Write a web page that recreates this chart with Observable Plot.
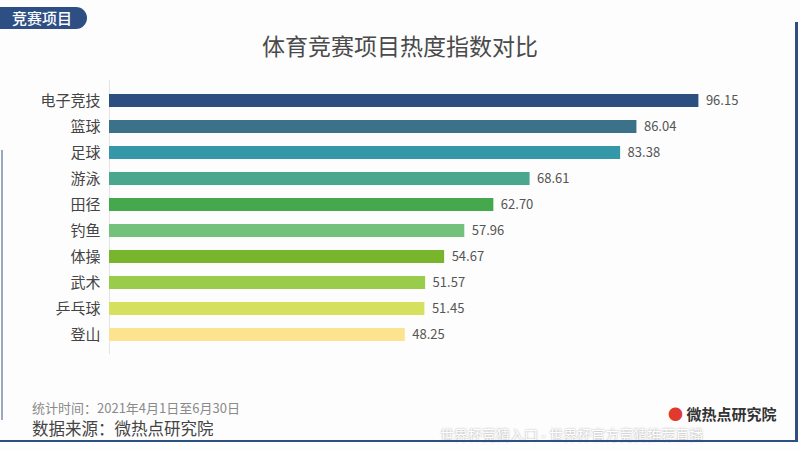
<!DOCTYPE html>
<html>
<head>
<meta charset="utf-8">
<script src="https://cdn.jsdelivr.net/npm/d3@7"></script>
<script src="https://cdn.jsdelivr.net/npm/@observablehq/plot@0.6"></script>
<style>
  html, body { margin: 0; padding: 0; background: #fff; }
  body { width: 800px; height: 451px; overflow: hidden; font-family: "Noto Sans CJK SC", "Noto Sans", sans-serif; }
  #wrap { position: relative; width: 800px; height: 451px; background: #fdfdfd; }
  #chart { position: absolute; left: 0; top: 0; }
  .abs { position: absolute; white-space: nowrap; }
  #badge { left: 0; top: 7px; width: 87px; height: 22px; background: #2d4f84; color: #fff; font-size: 15px; line-height: 22px; padding-left: 12px; box-sizing: border-box; border-radius: 0 11px 11px 0; font-weight: 500; }
  #title { left: 0; width: 800px; top: 28px; text-align: center; font-size: 23px; color: #4a4a4a; }
  #time { left: 32px; top: 398px; font-size: 13px; color: #8a8a8a; }
  #src { left: 32px; top: 416px; font-size: 16.5px; color: #444; }
  #logo { left: 668px; top: 403px; font-size: 15px; color: #333; font-weight: bold; }
  #logo span { color: #e03a2e; }
  #wm { left: 440px; top: 424px; font-size: 14px; color: #fff; text-shadow: 0 0 2px #999; }
  #bR { left: 795px; top: 22px; width: 3px; height: 420px; background: #2d4f84; }
  #bB { left: 0; top: 440px; width: 798px; height: 2px; background: #2d4f84; }
  #bL { left: 1px; top: 150px; width: 2px; height: 270px; background: #5a6f95; opacity: 0.6; }
</style>
</head>
<body>
<div id="wrap">
  <div id="chart"></div>
  <div class="abs" id="badge">竞赛项目</div>
  <div class="abs" id="title">体育竞赛项目热度指数对比</div>
  <div class="abs" id="time">统计时间：2021年4月1日至6月30日</div>
  <div class="abs" id="src">数据来源：微热点研究院</div>
  <div class="abs" id="logo"><span>●</span> 微热点研究院</div>
  <div class="abs" id="wm">世界杯竞猜入口 - 世界杯官方竞猜推荐直播</div>
  <div class="abs" id="bR"></div>
  <div class="abs" id="bB"></div>
  <div class="abs" id="bL"></div>
</div>
<script>
const categories = ["电子竞技", "篮球", "足球", "游泳", "田径", "钓鱼", "体操", "武术", "乒乓球", "登山"];
const values = [96.15, 86.04, 83.38, 68.61, 62.70, 57.96, 54.67, 51.57, 51.45, 48.25];
const valueLabels = ["96.15", "86.04", "83.38", "68.61", "62.70", "57.96", "54.67", "51.57", "51.45", "48.25"];
const colors = ["#2c4f80", "#3b7289", "#3598a8", "#4aa68c", "#45a84c", "#74c17c", "#79b52c", "#99cc4a", "#d4e05e", "#fde28f"];

const data = categories.map((c, i) => ({cat: c, value: values[i], label: valueLabels[i], color: colors[i]}));

const chart = Plot.plot({
  width: 800,
  height: 451,
  marginLeft: 109,
  marginRight: 78,
  marginTop: 80,
  marginBottom: 97,
  style: {fontFamily: '"Noto Sans CJK SC", "Noto Sans", sans-serif', background: "transparent", overflow: "visible"},
  x: {domain: [0, 100], axis: null},
  y: {domain: categories, padding: 0.5, label: null},
  marks: [
    Plot.ruleX([0], {stroke: "#e4e4e4", strokeWidth: 1}),
    Plot.barX(data, {y: "cat", x: "value", fill: "color"}),
    Plot.text(data, {y: "cat", x: "value", text: "label", textAnchor: "start", dx: 7, fontSize: 13, fill: "#555"}),
    Plot.axisY({tickSize: 0, tickPadding: 9, fontSize: 15, color: "#444", label: null})
  ]
});
document.getElementById("chart").appendChild(chart);
</script>
</body>
</html>
